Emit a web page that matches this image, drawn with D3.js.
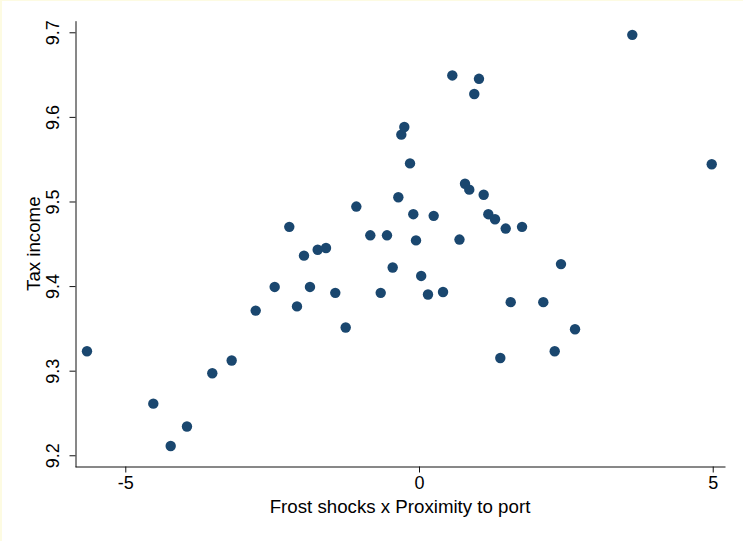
<!DOCTYPE html>
<html>
<head>
<meta charset="utf-8">
<script src="https://cdn.jsdelivr.net/npm/d3@7"></script>
<style>
	body { margin: 0; background: #fff; }
	svg { display: block; font-family: "Liberation Sans", Arial, sans-serif; }
</style>
</head>
<body>
<script>
//values
var frostShocks = [-5.652, -4.523, -4.227, -3.950, -3.519, -3.189, -2.780, -2.457, -2.208, -2.077,
	-1.958, -1.856, -1.725, -1.583, -1.425, -1.248, -1.067, -0.829, -0.652, -0.545,
	-0.448, -0.352, -0.301, -0.250, -0.153, -0.097, -0.051, 0.037, 0.153, 0.250,
	0.409, 0.567, 0.689, 0.783, 0.856, 0.941, 1.021, 1.101, 1.180, 1.294,
	1.384, 1.476, 1.561, 1.754, 2.116, 2.310, 2.417, 2.656, 3.631, 4.983];
var taxIncome = [9.323, 9.261, 9.211, 9.234, 9.297, 9.312, 9.371, 9.399, 9.470, 9.376,
	9.436, 9.399, 9.443, 9.445, 9.392, 9.351, 9.494, 9.460, 9.392, 9.460,
	9.422, 9.505, 9.579, 9.588, 9.545, 9.485, 9.454, 9.412, 9.390, 9.483,
	9.393, 9.649, 9.455, 9.521, 9.514, 9.627, 9.645, 9.508, 9.485, 9.479,
	9.315, 9.468, 9.381, 9.470, 9.381, 9.323, 9.426, 9.349, 9.697, 9.544];
var xTicks = [-5, 0, 5];
var yTicks = [9.2, 9.3, 9.4, 9.5, 9.6, 9.7];

window.onload = drawChart();

function drawChart(){
	var width = 743,
		height = 541;

	var svg = d3.select("body")
		.append("svg")
		.attr("width", width)
		.attr("height", height);

	//faint yellow edge seen on the left and top of the original
	svg.append("rect").attr("x", 0).attr("y", 0).attr("width", 2).attr("height", height).attr("fill", "#fdfbe2");
	svg.append("rect").attr("x", 0).attr("y", 0).attr("width", width).attr("height", 1).attr("fill", "#fdfbe2");

	//plot region
	var x = d3.scaleLinear()
		.domain([-5.856, 5.209])
		.range([75, 725]);
	var y = d3.scaleLinear()
		.domain([9.1865, 9.7137])
		.range([466.7, 20.7]);

	//x axis
	var xAxis = svg.append("g")
		.attr("transform", "translate(0,466.5)")
		.call(d3.axisBottom(x).tickValues(xTicks).tickSize(6).tickSizeOuter(0).tickPadding(4)
			.tickFormat(function(d){ return d; }));
	xAxis.selectAll("text")
		.attr("font-size", "18px")
		.attr("fill", "#000")
		.attr("font-family", "Liberation Sans, Arial, sans-serif");

	//y axis, labels turned on their side
	var yAxis = svg.append("g")
		.attr("transform", "translate(75.5,0)")
		.call(d3.axisLeft(y).tickValues(yTicks).tickSize(6).tickSizeOuter(0)
			.tickFormat(d3.format(".1f")));
	yAxis.selectAll("text")
		.attr("transform", "rotate(-90)")
		.attr("x", 0)
		.attr("y", -16.5)
		.attr("dy", 0)
		.attr("text-anchor", "middle")
		.attr("font-size", "18px")
		.attr("fill", "#000")
		.attr("font-family", "Liberation Sans, Arial, sans-serif");

	svg.selectAll(".domain, .tick line").attr("stroke", "#111");

	//axis titles
	svg.append("text")
		.attr("x", 400)
		.attr("y", 513)
		.attr("text-anchor", "middle")
		.attr("font-size", "18.7px")
		.text("Frost shocks x Proximity to port");
	svg.append("text")
		.attr("transform", "translate(40,243.7) rotate(-90)")
		.attr("text-anchor", "middle")
		.attr("font-size", "18.7px")
		.text("Tax income");

	//points
	svg.selectAll(".dot")
		.data(d3.range(frostShocks.length))
		.enter()
		.append("circle")
		.attr("class", "dot")
		.attr("cx", function(i){ return x(frostShocks[i]); })
		.attr("cy", function(i){ return y(taxIncome[i]); })
		.attr("r", 5.2)
		.attr("fill", "#1a476f");
}
</script>
</body>
</html>
